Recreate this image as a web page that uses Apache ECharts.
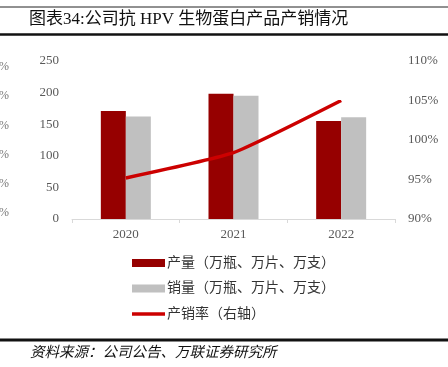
<!DOCTYPE html>
<html><head><meta charset="utf-8">
<script src="https://cdn.jsdelivr.net/npm/echarts@6/dist/echarts.min.js"></script>
<style>html,body{margin:0;padding:0;background:#fff}#c{width:448px;height:367px}</style>
</head><body><div id="c"></div>
<script>
const categories = ['2020', '2021', '2022'];
const production = [171, 198, 155];
const sales = [162, 195, 161];
const ratio = [95.2, 98.4, 105.0];
const leftTicks = [0, 50, 100, 150, 200, 250];
const rightTicks = [90, 95, 100, 105, 110];
const seriesNames = ['产量（万瓶、万片、万支）', '销量（万瓶、万片、万支）', '产销率（右轴）'];
const titleText = '图表34:公司抗 HPV 生物蛋白产品产销情况';
const sourceText = '资料来源：公司公告、万联证券研究所';

const serif = '"Liberation Serif","Noto Sans CJK SC",serif';
const chart = echarts.init(document.getElementById('c'), null, {renderer: 'canvas'});
const pctY = [68, 97, 127, 156, 185, 214];
chart.setOption({
  animation: false,
  backgroundColor: '#fff',
  grid: {left: 72, right: 53, top: 61, bottom: 148},
  graphic: [
    {type: 'line', shape: {x1: 0, y1: 7, x2: 448, y2: 7}, style: {stroke: '#222', lineWidth: 1}},
    {type: 'line', shape: {x1: 0, y1: 34.5, x2: 448, y2: 34.5}, style: {stroke: '#111', lineWidth: 2.5}},
    {type: 'line', shape: {x1: 0, y1: 340, x2: 448, y2: 340}, style: {stroke: '#111', lineWidth: 3}},
    {type: 'text', left: 29, top: 11, style: {text: titleText, fontSize: 17, fontFamily: serif, fill: '#111'}},
    {type: 'text', left: 30, top: 346, style: {text: sourceText, fontSize: 14.5, fontStyle: 'italic', fontFamily: serif, fill: '#111'}}
  ].concat(pctY.map(y => ({type: 'text', left: -1, top: y - 7, style: {text: '%', fontSize: 12, fontFamily: serif, fill: '#777'}}))),
  legend: {
    orient: 'vertical', left: 132, top: 256, padding: 0, itemWidth: 33, itemHeight: 8, itemGap: 11.5,
    textStyle: {fontSize: 14, fontFamily: serif, color: '#333', padding: [0, 0, 0, -3]},
    data: [
      {name: seriesNames[0], icon: 'rect'},
      {name: seriesNames[1], icon: 'rect'},
      {name: seriesNames[2], icon: 'path://M0,0H66V7H0Z'}
    ]
  },
  xAxis: {
    type: 'category', data: categories,
    axisLine: {lineStyle: {color: '#d9d9d9'}},
    axisTick: {show: true, lineStyle: {color: '#d9d9d9'}, length: 4},
    axisLabel: {color: '#595959', fontSize: 13, fontFamily: serif, margin: 9}
  },
  yAxis: [
    {type: 'value', min: 0, max: 250, interval: 50,
     axisLine: {show: false}, axisTick: {show: false}, splitLine: {show: false},
     axisLabel: {color: '#595959', fontSize: 13, fontFamily: serif, margin: 13}},
    {type: 'value', min: 90, max: 110, interval: 5, position: 'right',
     axisLine: {show: false}, axisTick: {show: false}, splitLine: {show: false},
     axisLabel: {color: '#595959', fontSize: 13, fontFamily: serif, margin: 13, formatter: v => v + '%'}}
  ],
  series: [
    {name: seriesNames[0], type: 'bar', data: production, barWidth: 25, barGap: 0,
     itemStyle: {color: '#960000'}},
    {name: seriesNames[1], type: 'bar', data: sales, barWidth: 25,
     itemStyle: {color: '#c0c0c0'}},
    {name: seriesNames[2], type: 'line', yAxisIndex: 1, data: ratio, smooth: 0.15,
     showSymbol: false, symbol: 'none', lineStyle: {color: '#cc0000', width: 3.5}, itemStyle: {color: '#cc0000'}}
  ]
});
</script></body></html>
